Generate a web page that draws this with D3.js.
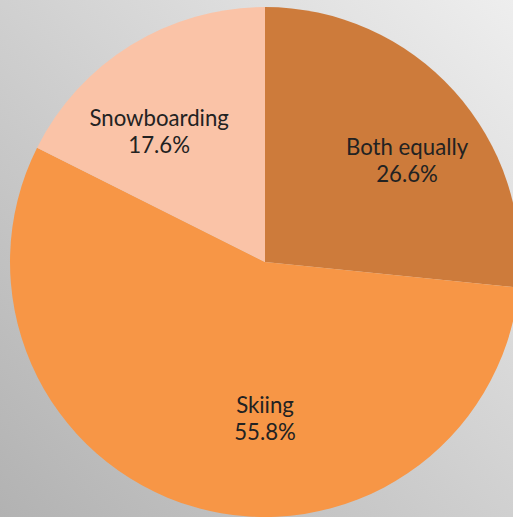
<!DOCTYPE html>
<html><head><meta charset="utf-8">
<script src="https://cdn.jsdelivr.net/npm/d3@7"></script>
<style>html,body{margin:0;padding:0;overflow:hidden;background:#fff}</style>
</head><body>
<script>
const categories = ["Both equally", "Skiing", "Snowboarding"];
const values = [26.6, 55.8, 17.6];
const colors = ["#CD7B3B", "#F79646", "#FAC3A7"];
// label placement (visual layout only)
const labelRadius = [171, 163, 163];
const labelAngleShift = [8.3, -16.2, -8.8]; // degrees

const W = 513, H = 517;
const svg = d3.select("body").append("svg").attr("width", W).attr("height", H);
const defs = svg.append("defs");
const grad = defs.append("linearGradient").attr("id","bg")
  .attr("x1","100%").attr("y1","0%").attr("x2","0%").attr("y2","100%");
grad.append("stop").attr("offset","0%").attr("stop-color","#eeeeee");
grad.append("stop").attr("offset","100%").attr("stop-color","#b2b2b2");
svg.append("rect").attr("width",W).attr("height",H).attr("fill","url(#bg)");

const cx = 265, cy = 262, r = 255;
const g = svg.append("g").attr("transform",`translate(${cx},${cy})`);
const pie = d3.pie().sort(null).value(d=>d.v);
const data = categories.map((c,i)=>({c, v:values[i], color:colors[i], i}));
const arcs = pie(data);
const arc = d3.arc().innerRadius(0).outerRadius(r);
g.selectAll("path").data(arcs).join("path")
  .attr("d", arc).attr("fill", d=>d.data.color);

const lab = g.selectAll("g.lab").data(arcs).join("g").attr("class","lab")
  .attr("transform", d=>{
    const a = (d.startAngle+d.endAngle)/2 + labelAngleShift[d.data.i]*Math.PI/180;
    const lr = labelRadius[d.data.i];
    return `translate(${lr*Math.sin(a)},${-lr*Math.cos(a)})`;
  });
const t = lab.append("text").attr("text-anchor","middle")
  .attr("font-family","Lato, 'Open Sans', sans-serif").attr("font-size",22.2)
  .attr("fill","#222");
t.append("tspan").attr("x",0).attr("y",-12).text(d=>d.data.c);
t.append("tspan").attr("x",0).attr("y",15).text(d=>d.data.v.toFixed(1)+"%");
</script>
</body></html>
